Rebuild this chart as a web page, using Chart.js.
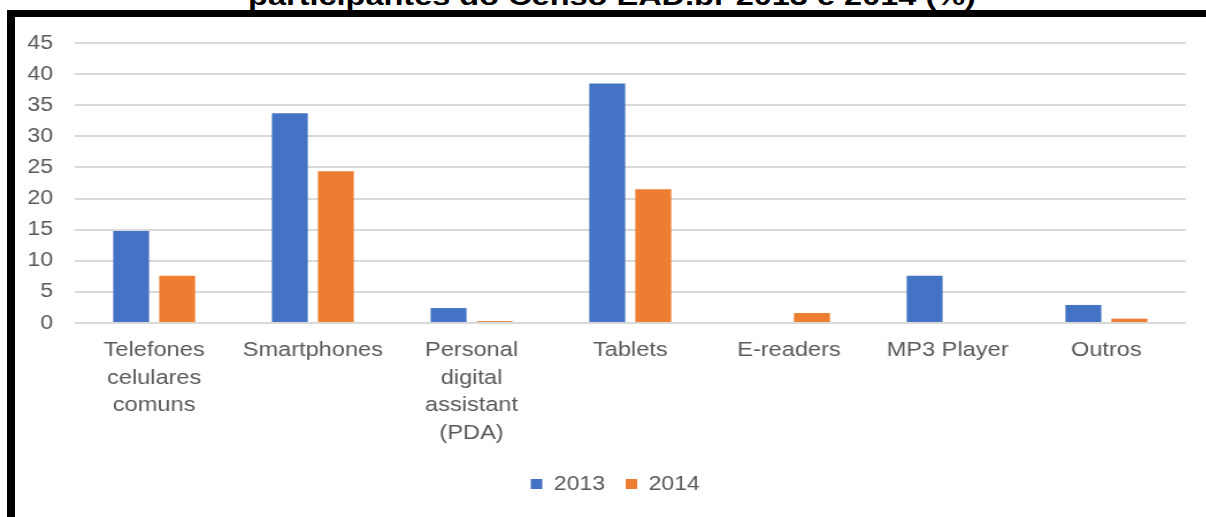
<!DOCTYPE html>
<html>
<head>
<meta charset="utf-8">
<script src="https://cdn.jsdelivr.net/npm/chart.js@4"></script>
<style>
  html, body { margin: 0; padding: 0; background: #fff; overflow: hidden; }
  body { width: 1206px; height: 517px; position: relative; font-family: "Liberation Sans", Arial, sans-serif; }
  #title { position: absolute; left: 0; width: 1224px; top: -17px; text-align: center; font-weight: bold; font-size: 26px; line-height: 26px; color: #000; white-space: nowrap; transform: scaleX(1.25); transform-origin: 612px 0; z-index: 2; }
  #btop { position: absolute; left: 7px; top: 10px; width: 1199px; height: 7px; background: #000; z-index: 2; }
  #bleft { position: absolute; left: 7px; top: 10px; width: 8px; height: 507px; background: #000; z-index: 2; }
  #wrap { position: absolute; left: 15px; top: 12px; width: 1036px; height: 500px; transform: scaleX(1.15); transform-origin: 0 0; z-index: 1; }
</style>
</head>
<body>
<div id="wrap"><canvas id="c"></canvas></div>
<div id="title">participantes do Censo EAD.br 2013 e 2014 (%)</div>
<div id="btop"></div>
<div id="bleft"></div>
<script>
const categories = [
  ["Telefones", "celulares", "comuns"],
  "Smartphones",
  ["Personal", "digital", "assistant", "(PDA)"],
  "Tablets",
  "E-readers",
  "MP3 Player",
  "Outros"
];
const seriesNames = ["2013", "2014"];
const values2013 = [14.8, 33.7, 2.4, 38.5, 0, 7.6, 2.9];
const values2014 = [7.6, 24.4, 0.3, 21.5, 1.6, 0, 0.7];
const yTicks = [0, 5, 10, 15, 20, 25, 30, 35, 40, 45];

const gray = "#595959";
const font = { family: "'Liberation Sans', Arial, sans-serif", size: 20 };

const legendShift = {
  id: "legendShift",
  afterLayout(chart) {
    const lg = chart.legend;
    if (lg) { lg.left += 13; lg.right += 13; }
  }
};

new Chart(document.getElementById("c"), {
  type: "bar",
  data: {
    labels: categories,
    datasets: [
      { label: seriesNames[0], data: values2013, backgroundColor: "#4472C4" },
      { label: seriesNames[1], data: values2014, backgroundColor: "#ED7D31" }
    ]
  },
  plugins: [legendShift],
  options: {
    responsive: true,
    maintainAspectRatio: false,
    animation: false,
    categoryPercentage: 0.58,
    barPercentage: 0.78,
    layout: { padding: { top: 12, right: 18, bottom: 8, left: 0 } },
    plugins: {
      tooltip: { enabled: false },
      legend: {
        position: "bottom",
        labels: { color: gray, font: font, boxWidth: 10, boxHeight: 10, padding: 18 }
      }
    },
    scales: {
      x: {
        grid: { display: false, drawTicks: false },
        border: { display: false },
        ticks: { color: gray, font: { ...font, size: 20.5, lineHeight: 1.34 }, padding: 14, maxRotation: 0, autoSkip: false },
        afterFit: (s) => { s.height = 133; }
      },
      y: {
        min: 0,
        max: 45,
        afterBuildTicks: (s) => { s.ticks = yTicks.map(v => ({ value: v })); },
        grid: { color: "#d9d9d9", lineWidth: 2, drawTicks: false },
        border: { display: false },
        ticks: { color: gray, font: font, padding: 19 },
        afterFit: (s) => { s.width = 52; }
      }
    }
  }
});
</script>
</body>
</html>
